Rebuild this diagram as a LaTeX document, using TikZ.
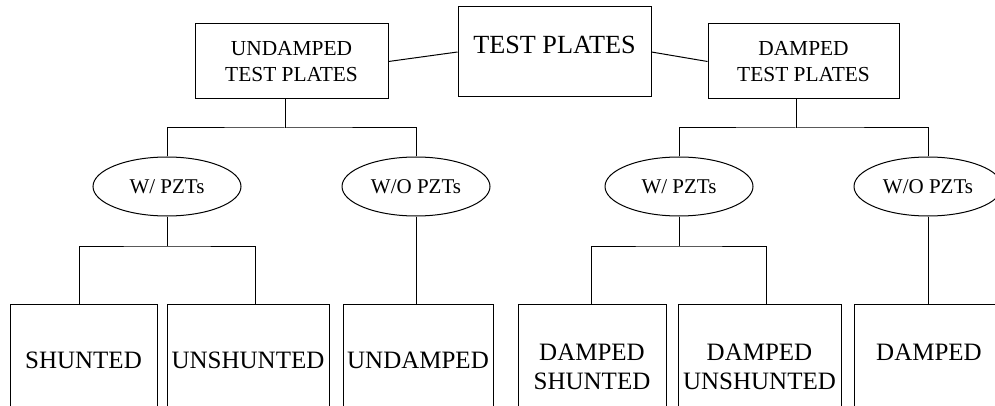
\documentclass[tikz,border=0pt]{standalone}
\usepackage{fontspec}
\setmainfont{Liberation Serif}
\usetikzlibrary{shapes.geometric}
\begin{document}
\begin{tikzpicture}[x=1pt, y=-1pt, line width=1pt,
  box/.style={draw, rectangle, inner sep=0pt, align=center},
  topbox/.style={box, minimum width=193pt, minimum height=75pt,
    font=\fontsize{21.4}{26}\selectfont},
  leafbox/.style={box, minimum height=125pt,
    font=\fontsize{25}{29}\selectfont},
  oneline/.style={text depth=13.5pt},
  pzt/.style={draw, ellipse, inner sep=0pt, minimum width=148pt,
    minimum height=59pt, font=\fontsize{21}{25}\selectfont}]

\useasboundingbox (0,0) rectangle (995,406);
\clip (0,0) rectangle (995,406);

% root and the two plate groups
\node[box, minimum width=193pt, minimum height=90pt, text depth=15pt,
  font=\fontsize{26.2}{30}\selectfont] (tp) at (554.5,52) {TEST PLATES};
\node[topbox] (und) at (291.5,61.5) {UNDAMPED\\TEST PLATES};
\node[topbox, minimum width=191pt] (dmp) at (803.5,61.5) {DAMPED\\TEST PLATES};

% with / without PZTs
\node[pzt] (e1) at (167,186.5) {W/ PZTs};
\node[pzt] (e2) at (416,186.5) {W/O PZTs};
\node[pzt] (e3) at (679,186.5) {W/ PZTs};
\node[pzt] (e4) at (928,186.5) {W/O PZTs};

% leaf cases
\node[leafbox, oneline, minimum width=147pt] (sh) at (83.5,366.5) {SHUNTED};
\node[leafbox, oneline, minimum width=162pt] (ush) at (248,366.5) {UNSHUNTED};
\node[leafbox, oneline, minimum width=150pt] (ud) at (418,366.5) {UNDAMPED};
\node[leafbox, minimum width=148pt] (dsh) at (592,366.5) {DAMPED\\SHUNTED};
\node[leafbox, minimum width=163pt] (dush) at (759.5,366.5) {DAMPED\\UNSHUNTED};
\node[leafbox, minimum width=150pt] (dd) at (929,366.5) {DAMPED\\~};

% junction points of the tree
\coordinate (jl) at (285,128);
\coordinate (jr) at (796,128);
\coordinate (j1) at (167,246);
\coordinate (j3) at (679,246);
\coordinate (a1) at (79,304);
\coordinate (a2) at (255,304);
\coordinate (a3) at (591,304);
\coordinate (a4) at (766,304);

% connectors
\draw (und.east) -- (tp.west);
\draw (tp.east) -- (dmp.west);
\draw (jl |- und.south) -- (jl);
\draw (e1.north) |- (jl) -| (e2.north);
\draw (jr |- dmp.south) -- (jr);
\draw (e3.north) |- (jr) -| (e4.north);
\draw (e1.south) -- (j1);
\draw (a1) |- (j1) -| (a2);
\draw (e3.south) -- (j3);
\draw (a3) |- (j3) -| (a4);
\draw (e2.south) -- (e2.south |- ud.north);
\draw (e4.south) -- (e4.south |- dd.north);
\end{tikzpicture}
\end{document}
